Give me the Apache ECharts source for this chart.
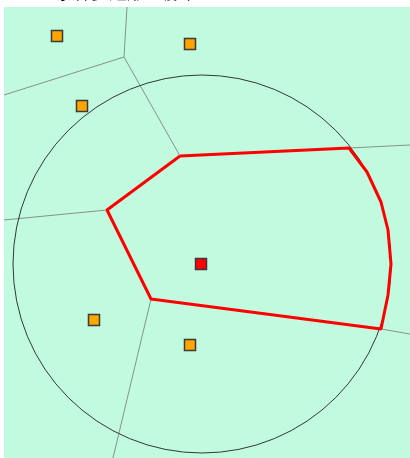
<!DOCTYPE html>
<html><head><meta charset="utf-8">
<script src="https://cdn.jsdelivr.net/npm/echarts@6/dist/echarts.min.js"></script>
<style>html,body{margin:0;padding:0;background:#fff}#c{width:410px;height:458px}</style>
</head><body><div id="c"></div>
<script>
const titleText = '泰森多边形 - 缓冲区';
const orangeSites = [[57,36],[190,44],[82,106],[94,320],[190,345]];
const redSite = [[201,264]];
const voronoiEdges = [
  [[127,7],[124,57]],
  [[124,57],[4,95]],
  [[124,57],[180,156]],
  [[349,148],[410,145]],
  [[381,329],[410,334]],
  [[151,299],[113,458]],
  [[107,210],[4,220]]
];
const redCell = [[180,156],[349,148],[367,172],[381,202],[388,230],[391,264],[388,295],[381,329],[151,299],[107,210],[180,156]];
const bufferCircle = {center:[202,264], radius:189};

const chart = echarts.init(document.getElementById('c'));
chart.setOption({
  animation:false,
  title:{text:titleText, left:50, top:-22, textStyle:{fontSize:18, fontWeight:'normal', color:'#000', fontFamily:'Noto Sans CJK SC'}},
  grid:{left:4, top:7, right:0, bottom:0, show:true, backgroundColor:'#c1fadf', borderWidth:0},
  xAxis:{type:'value', min:4, max:410, show:false},
  yAxis:{type:'value', min:7, max:458, inverse:true, show:false},
  series:[
    {type:'lines', coordinateSystem:'cartesian2d', silent:true,
     lineStyle:{color:'#84938c', width:1, opacity:1},
     data: voronoiEdges.map(e=>({coords:e}))},
    {type:'custom', coordinateSystem:'cartesian2d', silent:true,
     data:[[bufferCircle.center[0], bufferCircle.center[1], bufferCircle.radius]],
     renderItem:function(params, api){
       const c = api.coord([api.value(0), api.value(1)]);
       const r = api.size([api.value(2), 0])[0];
       return {type:'circle', shape:{cx:c[0], cy:c[1], r:r}, style:{fill:'none', stroke:'#2f3a35', lineWidth:1}};
     }},
    {type:'line', data:redCell, symbol:'none', lineStyle:{color:'#ff0000', width:3}, z:5},
    {type:'scatter', data:orangeSites, symbol:'rect', symbolSize:11,
     itemStyle:{color:'#ffa500', borderColor:'#3a3a3a', borderWidth:1.5, opacity:1}, z:6},
    {type:'scatter', data:redSite, symbol:'rect', symbolSize:11,
     itemStyle:{color:'#ff0000', borderColor:'#3a3a3a', borderWidth:1.5, opacity:1}, z:6}
  ]
});
</script></body></html>
